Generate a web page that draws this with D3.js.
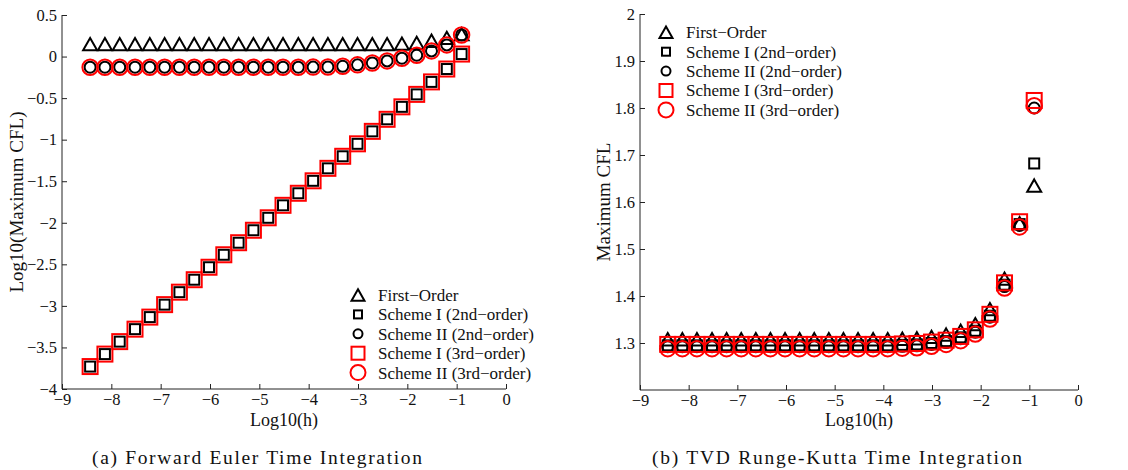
<!DOCTYPE html>
<html><head><meta charset="utf-8">
<script src="https://cdn.jsdelivr.net/npm/d3@7"></script>
<style>body{margin:0;background:#fff}svg{display:block}text{font-family:"Liberation Serif","Times New Roman",serif;fill:#111}</style>
</head><body>
<svg id="c" width="1128" height="470"></svg>
<script>
// ---------- data ----------
const logH = [-8.43,-8.13,-7.83,-7.52,-7.22,-6.92,-6.62,-6.32,-6.02,-5.72,-5.42,-5.12,-4.82,-4.52,-4.21,-3.91,-3.61,-3.31,-3.01,-2.71,-2.41,-2.11,-1.81,-1.51,-1.20,-0.90];

// (a) Forward Euler: Log10(Maximum CFL)
const feFirst = [0.15,0.15,0.15,0.15,0.15,0.15,0.15,0.15,0.15,0.15,0.15,0.15,0.15,0.15,0.15,0.15,0.15,0.15,0.15,0.15,0.15,0.155,0.165,0.19,0.225,0.27];
const feS1o2 = [-3.73,-3.58,-3.43,-3.28,-3.135,-2.985,-2.835,-2.685,-2.535,-2.385,-2.24,-2.09,-1.94,-1.79,-1.645,-1.495,-1.345,-1.2,-1.05,-0.9,-0.755,-0.605,-0.455,-0.305,-0.15,0.03];
const feS2o2 = [-0.128,-0.128,-0.128,-0.128,-0.128,-0.128,-0.128,-0.128,-0.128,-0.128,-0.128,-0.128,-0.128,-0.128,-0.128,-0.127,-0.125,-0.117,-0.1,-0.077,-0.052,-0.02,0.016,0.068,0.14,0.26];
const feS1o3 = [-3.73,-3.58,-3.43,-3.28,-3.135,-2.985,-2.835,-2.685,-2.535,-2.385,-2.24,-2.09,-1.94,-1.79,-1.645,-1.495,-1.345,-1.2,-1.05,-0.9,-0.755,-0.605,-0.455,-0.305,-0.15,0.03];
const feS2o3 = [-0.128,-0.128,-0.128,-0.128,-0.128,-0.128,-0.128,-0.128,-0.128,-0.128,-0.128,-0.128,-0.128,-0.128,-0.128,-0.127,-0.125,-0.117,-0.1,-0.077,-0.052,-0.02,0.016,0.068,0.14,0.26];

// (b) TVD Runge-Kutta: Maximum CFL
const rkFirst = [1.308,1.308,1.308,1.308,1.308,1.308,1.308,1.308,1.308,1.308,1.308,1.308,1.308,1.308,1.308,1.308,1.309,1.310,1.313,1.318,1.326,1.340,1.372,1.437,1.555,1.635];
const rkS1o2 = [1.295,1.295,1.295,1.295,1.295,1.295,1.295,1.295,1.295,1.295,1.295,1.295,1.295,1.295,1.295,1.295,1.296,1.297,1.300,1.304,1.312,1.326,1.358,1.424,1.553,1.682];
const rkS2o2 = [1.292,1.292,1.292,1.292,1.292,1.292,1.292,1.292,1.292,1.292,1.292,1.292,1.292,1.292,1.292,1.292,1.293,1.294,1.297,1.301,1.309,1.323,1.355,1.420,1.550,1.800];
const rkS1o3 = [1.297,1.297,1.297,1.297,1.297,1.297,1.297,1.297,1.297,1.297,1.297,1.297,1.297,1.297,1.297,1.297,1.298,1.299,1.302,1.306,1.314,1.328,1.361,1.428,1.558,1.816];
const rkS2o3 = [1.288,1.288,1.288,1.288,1.288,1.288,1.288,1.288,1.288,1.288,1.288,1.288,1.288,1.288,1.288,1.288,1.289,1.290,1.293,1.297,1.305,1.319,1.351,1.417,1.547,1.805];

const xTicks = [-9,-8,-7,-6,-5,-4,-3,-2,-1,0];
const feYTicks = [0.5,0,-0.5,-1,-1.5,-2,-2.5,-3,-3.5,-4];
const rkYTicks = [2,1.9,1.8,1.7,1.6,1.5,1.4,1.3];
const legendLabels = ["First\u2212Order","Scheme I (2nd\u2212order)","Scheme II (2nd\u2212order)","Scheme I (3rd\u2212order)","Scheme II (3rd\u2212order)"];
const captions = ["(a) Forward Euler Time Integration","(b) TVD Runge-Kutta Time Integration"];

// ---------- drawing ----------
const svg = d3.select("#c");
const fmt = v => String(v).replace("-", "\u2212");

const markerStyles = [
  {type:"tri", size:14, color:"#000"},
  {type:"sq", size:10, color:"#000"},
  {type:"ci", size:11, color:"#000"},
  {type:"sq", size:15, color:"#f00"},
  {type:"ci", size:15.5, color:"#f00"}
];
const legendStyles = [
  {type:"tri", size:13, color:"#000"},
  {type:"sq", size:8, color:"#000"},
  {type:"ci", size:9, color:"#000"},
  {type:"sq", size:13, color:"#f00"},
  {type:"ci", size:15, color:"#f00"}
];

function drawMarker(g, st, x, y) {
  const s = st.size, h = s/2;
  if (st.type === "tri") {
    g.append("path").attr("d", `M${x},${y-h*0.88}L${x+h},${y+h*0.88}L${x-h},${y+h*0.88}Z`)
      .attr("fill","none").attr("stroke",st.color).attr("stroke-width",2).attr("stroke-linejoin","miter");
  } else if (st.type === "sq") {
    g.append("rect").attr("x",x-h).attr("y",y-h).attr("width",s).attr("height",s)
      .attr("fill","none").attr("stroke",st.color).attr("stroke-width",2);
  } else {
    g.append("circle").attr("cx",x).attr("cy",y).attr("r",h)
      .attr("fill","none").attr("stroke",st.color).attr("stroke-width",2);
  }
}

function panel(opt) {
  const g = svg.append("g");
  const x = d3.scaleLinear().domain([-9,0]).range([opt.x0, opt.x1]);
  const y = d3.scaleLinear().domain(opt.yDomain).range([opt.y1, opt.y0]);

  const xa = g.append("g").attr("transform",`translate(0,${opt.y1})`)
    .call(d3.axisBottom(x).tickValues(xTicks).tickSizeInner(-5).tickSizeOuter(0).tickPadding(5).tickFormat(fmt));
  const ya = g.append("g").attr("transform",`translate(${opt.x0},0)`)
    .call(d3.axisLeft(y).tickValues(opt.yTicks).tickSizeInner(-5).tickSizeOuter(0).tickPadding(5).tickFormat(fmt));
  [xa, ya].forEach(a => {
    a.select(".domain").attr("stroke","#222").attr("stroke-width",1);
    a.selectAll(".tick line").attr("stroke","#222");
    a.selectAll("text").attr("font-size",16.5).attr("font-family","Liberation Serif").attr("fill","#111");
  });
  xa.selectAll(".tick text").attr("y",4).attr("dy","0.71em");
  ya.selectAll(".tick text").attr("x",-5);
  ya.select(".domain").attr("d",`M0,${opt.y0}V${opt.y1}`);
  xa.select(".domain").attr("d",`M${opt.x0},0H${opt.x1}`);

  opt.series.forEach((vals, i) => {
    const sg = g.append("g");
    vals.forEach((v, j) => drawMarker(sg, markerStyles[i], x(logH[j]), y(v)));
  });

  g.append("text").attr("x",(opt.x0+opt.x1)/2).attr("y",426).attr("text-anchor","middle")
    .attr("font-size",18).text("Log10(h)");
  g.append("text").attr("transform",`translate(${opt.ylx},${(opt.y0+opt.y1)/2}) rotate(-90)`)
    .attr("text-anchor","middle").attr("font-size",19).attr("dy","0.35em").text(opt.ylabel);

  const lg = g.append("g");
  legendLabels.forEach((t, i) => {
    const yy = opt.legY + i*19.4;
    drawMarker(lg, legendStyles[i], opt.legX, yy);
    lg.append("text").attr("x",opt.legX+20).attr("y",yy).attr("dy","0.35em").attr("font-size",17).text(t);
  });

  g.append("text").attr("x",opt.capX).attr("y",464).attr("text-anchor","middle")
    .attr("font-size",19.5).attr("textLength",opt.capW).attr("lengthAdjust","spacing").text(opt.caption);
}

panel({x0:62, x1:506, y0:15, y1:389, yDomain:[-4,0.5], yTicks:feYTicks,
  series:[feFirst,feS1o2,feS2o2,feS1o3,feS2o3], ylabel:"Log10(Maximum CFL)", ylx:16,
  legX:358, legY:295, caption:captions[0], capX:257, capW:330});
panel({x0:640, x1:1078, y0:14, y1:390, yDomain:[1.2,2], yTicks:rkYTicks,
  series:[rkFirst,rkS1o2,rkS2o2,rkS1o3,rkS2o3], ylabel:"Maximum CFL", ylx:603,
  legX:666, legY:32.3, caption:captions[1], capX:837, capW:370});
</script>
</body></html>
